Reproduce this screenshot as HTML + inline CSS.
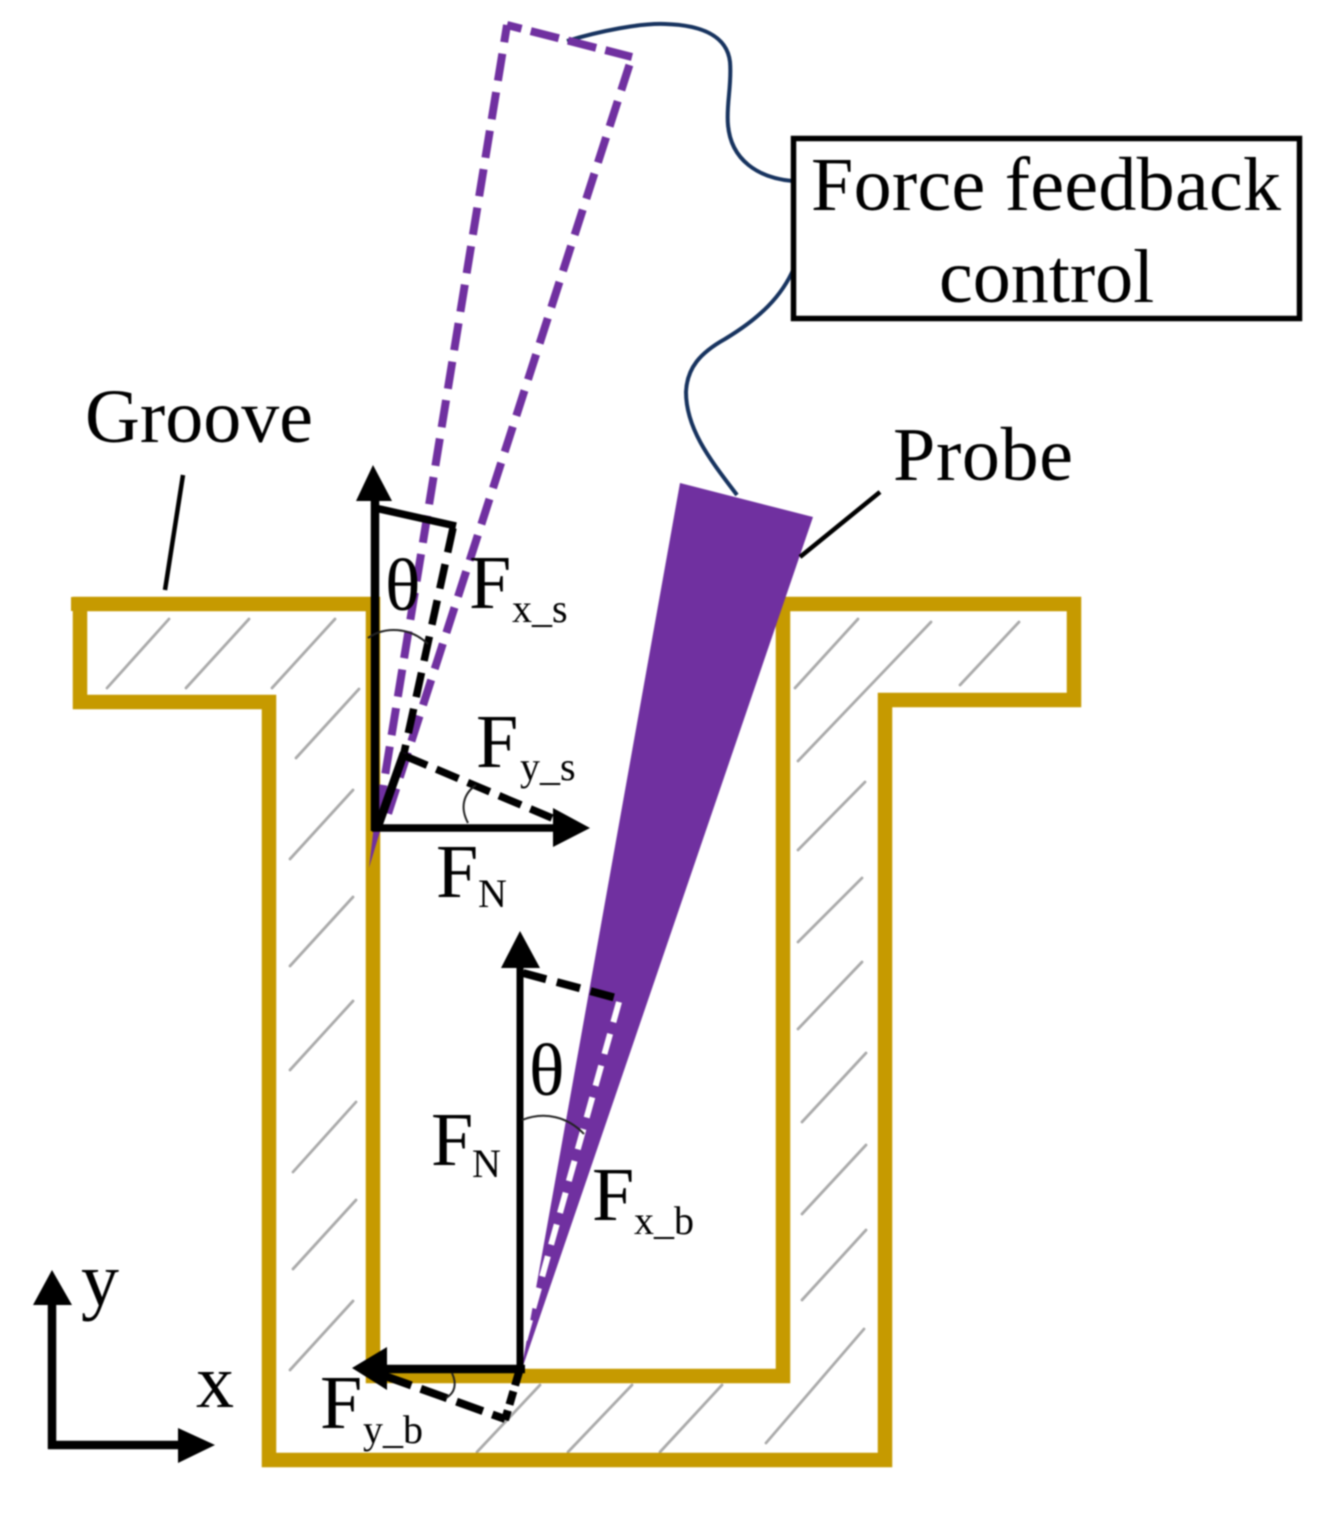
<!DOCTYPE html>
<html lang="en">
<head>
<meta charset="utf-8">
<title>Force feedback probe in groove</title>
<style>
html,body{margin:0;padding:0;background:#fff;width:1328px;height:1513px;overflow:hidden}
svg{display:block;filter:blur(.7px)}
text{font-family:"Liberation Serif",serif;fill:#000}
.b{font-size:76px}
.s{font-size:40px}
.t{font-size:74px}
</style>
</head>
<body>
<svg width="1328" height="1513" viewBox="0 0 1328 1513" xmlns="http://www.w3.org/2000/svg">
<rect width="1328" height="1513" fill="#fff"/>

<!-- hatching -->
<g stroke="#aaa" stroke-width="2.800" fill="none" stroke-linecap="round">
<path d="M107 688L169 619M186 688L249 619M272 688L335 619M296 758L359 689M290 859L353 790M290 966L353 897M290 1070L353 1001M293 1172L356 1102M293 1269L356 1200M290 1370L353 1301"/>
<path d="M795 688L858 619M798 761L931 622M960 685L1019 622M798 850L865 782M798 942L862 878M798 1029L862 962M802 1122L866 1053M802 1214L866 1145M802 1300L866 1230M766 1443L864 1329"/>
<path d="M477 1452L540 1385M568 1452L632 1385M660 1452L722 1385"/>
</g>

<!-- groove -->
<path d="M373 604H80V702H269V1460H885V700H1074V604H783V1376H373Z" fill="none" stroke="#c69a00" stroke-width="14.5" stroke-linejoin="miter"/>
<rect x="71" y="597" width="12" height="14" fill="#c69a00"/>

<!-- wires -->
<g fill="none" stroke="#17335f" stroke-width="4">
<path d="M567 41C600 31 640 23 665 24C700 25 727 35 730 62C732 85 726 105 728 125C731 160 758 178 793 181"/>
<path d="M794 268C782 296 760 318 725 339C700 353 687 368 686 392C686 430 712 462 737 495"/>
</g>

<!-- dashed probe outline -->
<g fill="none" stroke="#7030a0" stroke-width="8">
<path d="M507 25L377 825" stroke-dasharray="27.500 11.500" stroke-dashoffset="10"/>
<path d="M507 25L632 57" stroke-dasharray="29 9.500" stroke-dashoffset="14"/>
<path d="M629.400 65L386 820" stroke-dasharray="26.500 11.500"/>
</g>
<polygon points="369,868 374,825 382,825" fill="#7030a0"/>

<!-- solid probe -->
<polygon points="680,483 813,517 521,1372" fill="#7030a0"/>
<path d="M619 1002L523 1345" fill="none" stroke="#fff" stroke-width="6" stroke-dasharray="21 12"/>

<!-- upper force diagram -->
<g fill="none" stroke="#000" stroke-width="7.500">
<path d="M375 831V495" stroke-width="8.500"/>
<path d="M372 828H560"/>
<path d="M375 508L456 526"/>
<path d="M453 528L404 753" stroke-dasharray="25 12"/>
<path d="M404 753L377 829" stroke-width="8.500"/>
<path d="M405 756L552 818" stroke-dasharray="24 10"/>
</g>
<polygon points="373,465 392,501 356,501" fill="#000"/>
<polygon points="590,828 553,808 553,847" fill="#000"/>
<g fill="none" stroke="#222" stroke-width="2">
<path d="M368 638C385 626 410 627 428 644"/>
<path d="M468 823C460 808 463 794 476 785"/>
</g>

<!-- lower force diagram -->
<g fill="none" stroke="#000" stroke-width="8">
<path d="M520 1372V960" stroke-width="7"/>
<path d="M525 1369H380" stroke-width="8.500"/>
<path d="M523 973L620 999" stroke-dasharray="24 11"/>
<path d="M385 1376L505 1419" stroke-dasharray="28 10"/>
<path d="M519 1372L505 1420" stroke-dasharray="14 6"/>
</g>
<polygon points="520,931 540,968 501,968" fill="#000"/>
<polygon points="352,1368 387,1347 387,1390" fill="#000"/>
<g fill="none" stroke="#222" stroke-width="2">
<path d="M522 1120C545 1111 568 1117 584 1134"/>
<path d="M452 1373C457 1384 455 1393 446 1398"/>
</g>

<!-- axes -->
<g fill="none" stroke="#000" stroke-width="8.500">
<path d="M52 1449V1300"/>
<path d="M48 1445H185"/>
</g>
<polygon points="52,1270 72,1305 33,1305" fill="#000"/>
<polygon points="215,1445 178,1428 178,1463" fill="#000"/>

<!-- leaders -->
<g stroke="#000" stroke-width="4.500" fill="none">
<path d="M183 475L165 590"/>
<path d="M880 492L800 557"/>
</g>

<!-- box -->
<rect x="793.500" y="138.500" width="506" height="180" fill="#fff" stroke="#000" stroke-width="5.500"/>

<!-- labels -->
<text class="b" x="811" y="210" textLength="470">Force feedback</text>
<text class="b" x="939" y="302">control</text>
<text class="b" x="85" y="442">Groove</text>
<text class="b" x="893" y="480" textLength="180">Probe</text>

<text class="t" x="385" y="610">θ</text>
<text class="b" x="469" y="608">F</text><text class="s" x="512" y="622">x_s</text>
<text class="b" x="476" y="767">F</text><text class="s" x="520" y="780">y_s</text>
<text class="b" x="436" y="897">F</text><text class="s" x="478" y="907">N</text>

<text class="t" x="529" y="1095">θ</text>
<text class="b" x="431" y="1165">F</text><text class="s" x="472" y="1177">N</text>
<text class="b" x="592" y="1220">F</text><text class="s" x="634" y="1234">x_b</text>
<text class="b" x="320" y="1428">F</text><text class="s" x="363" y="1443">y_b</text>

<text class="b" x="81" y="1305">y</text>
<text class="b" x="196" y="1407">x</text>
</svg>
</body>
</html>
